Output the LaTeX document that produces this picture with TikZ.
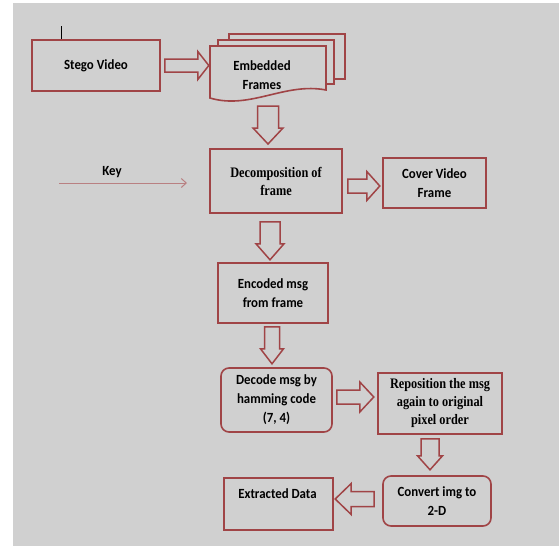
\documentclass[tikz,border=0pt]{standalone}
\usepackage{fontspec}
\usetikzlibrary{calc,arrows.meta}
\newfontfamily\calb{Carlito}[FakeStretch=0.92]
\newfontfamily\tmsb{Liberation Serif}[FakeStretch=0.85]
\definecolor{bggray}{RGB}{208,208,208}
\definecolor{boxred}{RGB}{160,68,70}
\definecolor{keyline}{RGB}{185,128,130}
\tikzset{
  cfont/.style={font={\calb\bfseries\fontsize{14}{19}\selectfont}},
  tfont/.style={font={\tmsb\bfseries\fontsize{14.5}{18}\selectfont}},
  box/.style={draw=boxred, line width=1.6pt, rectangle, inner sep=0pt, align=center, text=black},
  rbox/.style={box, rounded corners=8pt},
  barrow/.style={draw=boxred, line width=1.5pt, line join=miter, fill=bggray},
  docshape/.style={draw=boxred, line width=1.6pt, fill=bggray},
}
\newcommand{\BlkArrow}[6]{%
  \begin{scope}[shift={#1},rotate=#2]
    \draw[barrow] (0,-#4) -- ({#3-#6},-#4) -- ({#3-#6},-#5) -- (#3,0) -- ({#3-#6},#5) -- ({#3-#6},#4) -- (0,#4) -- cycle;
  \end{scope}}
\begin{document}
\begin{tikzpicture}[x=1pt,y=1pt]
\useasboundingbox (0,0) rectangle (559,-546);
\fill[bggray] (13,-3) rectangle (559,-546);

% boxes
\node[box, cfont, minimum width=128pt, minimum height=51pt] (stego) at (96,-65.5) {Stego Video};
\node[box, tfont, minimum width=132pt, minimum height=64pt] (decomp) at (276,-181) {Decomposition of\\frame};
\node[box, cfont, minimum width=103pt, minimum height=50pt] (cover) at (434.5,-183) {Cover Video\\Frame};
\node[box, cfont, minimum width=110pt, minimum height=60pt] (encoded) at (273,-293) {Encoded msg\\from frame};
\node[rbox, cfont, minimum width=111pt, minimum height=64pt] (decode) at (276.5,-400) {Decode msg by\\hamming code\\(7, 4)};
\node[box, tfont, minimum width=124pt, minimum height=61pt] (repos) at (440,-403.5) {Reposition the msg\\again to original\\pixel order};
\node[rbox, cfont, minimum width=108pt, minimum height=50pt] (convert) at (437,-501) {Convert img to\\2-D};
\node[box, minimum width=109pt, minimum height=52pt] (extracted) at (278.5,-504) {};
\node[cfont, inner sep=0pt] (extractedtext) at ($(extracted.north)+(-1,-16)$) {Extracted Data};

% stray tick above stego box
\coordinate (tickbot) at ($(stego.north west)+(30,0)$);
\coordinate (ticktop) at ($(tickbot)+(0,13)$);
\draw[black, line width=1pt] (tickbot) -- (ticktop);

% embedded frames (multi-document)
\draw[docshape] (229,-34) -- (345,-34) -- (345,-79) -- (229,-79) -- cycle;
\draw[docshape] (218,-40) -- (334,-40) -- (334,-84) -- (218,-84) -- cycle;
\draw[docshape] (210,-46) -- (326,-46) -- (326,-90)
   .. controls (285,-82) and (250,-110) .. (210,-98) -- cycle;
\node[cfont, inner sep=0pt, align=center] (emb) at (262,-75) {Embedded\\Frames};
\coordinate (embbottom) at (268,-101);

% key
\node[cfont, inner sep=0pt] (keytext) at (112,-172) {Key};
\coordinate (keystart) at (59,-183);
\coordinate (keyend) at (187,-183);
\draw[keyline, line width=1pt, -{Straight Barb[length=5pt,width=9pt]}] (keystart) -- (keyend);

% block arrows
\BlkArrow{($(stego.east)+(4,0)$)}{0}{44}{6.5}{14}{11}
\BlkArrow{($(embbottom)+(0,-5)$)}{-90}{38}{10.5}{15}{16}
\BlkArrow{($(decomp.east)+(5,-5)$)}{0}{32}{7}{14.5}{13}
\BlkArrow{($(decomp.south)+(-6,-8)$)}{-90}{38}{10}{14}{16}
\BlkArrow{($(encoded.south)+(-1,-3)$)}{-90}{37}{7.5}{11.5}{15}
\BlkArrow{($(decode.east)+(4,3)$)}{0}{37}{7}{15}{14}
\BlkArrow{($(repos.south)+(-10,-4)$)}{-90}{31}{9}{12.5}{14}
\BlkArrow{($(convert.west)+(-8,2)$)}{180}{39}{7.5}{15.5}{16}
\end{tikzpicture}
\end{document}
